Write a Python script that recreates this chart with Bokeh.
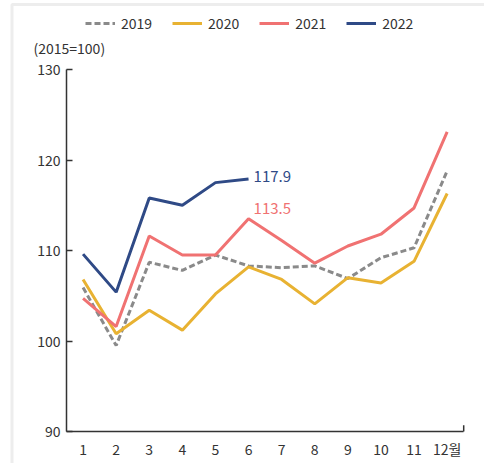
from bokeh.plotting import figure
from bokeh.models import FixedTicker, Legend, LegendItem, Label, BoxAnnotation
from bokeh.embed import file_html
from bokeh.resources import INLINE

# Monthly index values (2015=100)
months = [1, 2, 3, 4, 5, 6, 7, 8, 9, 10, 11, 12]
month_labels = ["1", "2", "3", "4", "5", "6", "7", "8", "9", "10", "11", "12월"]
y_ticks = [90, 100, 110, 120, 130]
y2019 = [105.9, 99.5, 108.7, 107.8, 109.5, 108.3, 108.1, 108.3, 106.9, 109.2, 110.3, 118.8]
y2020 = [106.8, 100.8, 103.4, 101.2, 105.2, 108.2, 106.8, 104.1, 107.0, 106.4, 108.8, 116.3]
y2021 = [104.7, 101.6, 111.6, 109.5, 109.5, 113.5, 111.1, 108.6, 110.5, 111.8, 114.7, 123.1]
months_2022 = [1, 2, 3, 4, 5, 6]
y2022 = [109.6, 105.4, 115.8, 115.0, 117.5, 117.9]

C19, C20, C21, C22 = "#8a8a8a", "#e8b232", "#f07272", "#2f4a86"
TEXT = "#333333"
FONT = "Noto Sans CJK KR"

W, H = 484, 463
AXIS_Y_PX = 431                  # pixel row of the index-90 baseline
PX_X = 33.1                      # pixels per month
PX_Y = 9.05                      # pixels per index point
X0_PX = 66                       # where month 0.5 sits
x_start = 0.5 - X0_PX / PX_X
x_end = x_start + W / PX_X
y_start = 90 - (H - AXIS_Y_PX) / PX_Y
y_end = y_start + H / PX_Y


def dx(px):
    return x_start + px / PX_X


def dy(px_from_top):
    return y_start + (H - px_from_top) / PX_Y


p = figure(width=W, height=H, output_backend="svg", toolbar_location=None,
           x_range=(x_start, x_end), y_range=(y_start, y_end),
           min_border_left=0, min_border_right=0, min_border_top=0, min_border_bottom=0)
p.outline_line_color = None
p.grid.visible = False
p.background_fill_color = "white"
p.border_fill_color = "white"

# y axis pinned at month 0.5, ticks pointing into the plot
ya = p.yaxis[0]
ya.fixed_location = 0.5
ya.bounds = (90, 130)
ya.ticker = FixedTicker(ticks=y_ticks)
ya.major_tick_in = 6
ya.major_tick_out = 0
ya.minor_tick_line_color = None
ya.axis_line_color = TEXT
ya.axis_line_width = 1.5
ya.major_tick_line_color = TEXT
ya.major_tick_line_width = 1.5
ya.major_label_text_font = FONT
ya.major_label_text_font_size = "14px"
ya.major_label_text_color = TEXT
ya.major_label_standoff = 6

# x axis pinned at index 90: month labels only
xa = p.xaxis[0]
xa.fixed_location = 90
xa.bounds = (0.5, 12.5)
xa.ticker = FixedTicker(ticks=months)
xa.major_label_overrides = {m: lab for m, lab in zip(months, month_labels)}
xa.major_tick_in = 0
xa.major_tick_out = 0
xa.minor_tick_line_color = None
xa.axis_line_color = TEXT
xa.axis_line_width = 1.5
xa.major_label_text_font = FONT
xa.major_label_text_font_size = "14px"
xa.major_label_text_color = TEXT
xa.major_label_standoff = 7

# small closing tick at the right end of the x axis
p.segment(x0=[12.5], y0=[90], x1=[12.5], y1=[90.7], line_color=TEXT, line_width=1.5)

r19 = p.line(months, y2019, line_color=C19, line_width=3, line_dash="6 3")
r20 = p.line(months, y2020, line_color=C20, line_width=3)
r21 = p.line(months, y2021, line_color=C21, line_width=3)
r22 = p.line(months_2022, y2022, line_color=C22, line_width=3)

p.add_layout(Label(x=months_2022[-1], y=y2022[-1], text=f"{y2022[-1]:.1f}", x_offset=5, y_offset=3,
                   text_baseline="middle", text_color=C22, text_font=FONT, text_font_size="15px"))
p.add_layout(Label(x=months[5], y=y2021[5], text=f"{y2021[5]:.1f}", x_offset=5, y_offset=10,
                   text_baseline="middle", text_color=C21, text_font=FONT, text_font_size="15px"))

p.add_layout(Label(x=dx(33), y=dy(47), text="(2015=100)", text_baseline="middle",
                   text_color=TEXT, text_font=FONT, text_font_size="14px"))

legend = Legend(items=[LegendItem(label="2019", renderers=[r19]),
                       LegendItem(label="2020", renderers=[r20]),
                       LegendItem(label="2021", renderers=[r21]),
                       LegendItem(label="2022", renderers=[r22])],
                orientation="horizontal", location=(85, H - 33),
                glyph_width=30, label_standoff=6, spacing=20, padding=0, margin=0,
                label_text_font=FONT, label_text_font_size="14px", label_text_color=TEXT,
                border_line_color=None, background_fill_alpha=0)
p.add_layout(legend, "center")

# light frame along the top and left of the panel
p.add_layout(BoxAnnotation(left=dx(11.5), right=dx(W + 20), top=dy(4), bottom=dy(H + 20),
                           fill_alpha=0, line_color="#c3c3c3", line_width=3, level="underlay"))

open("out.html", "w").write(file_html(p, INLINE))
